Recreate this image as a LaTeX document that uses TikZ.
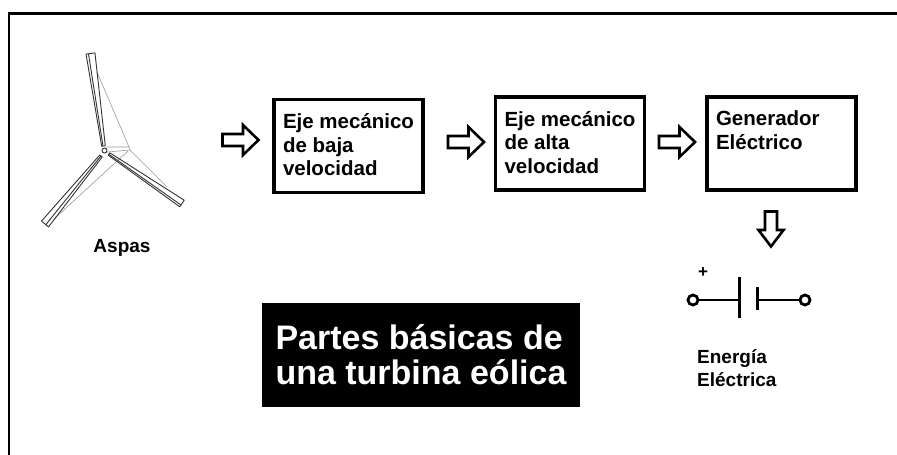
\documentclass[tikz,border=0pt]{standalone}
\usepackage{fontspec}
\setmainfont{Liberation Sans}

\begin{document}
\begin{tikzpicture}[x=1pt, y=-1pt]
  \tikzstyle{every node}=[font=\bfseries]
  \tikzstyle{caja}=[draw, line width=3.5pt, minimum width=149pt, minimum height=93pt, inner xsep=9pt, inner ysep=14pt, font=\bfseries\fontsize{20.5}{23.5}\selectfont]
  \tikzstyle{flecha}=[draw, line width=2.6pt, line join=miter]
  \tikzstyle{aspa}=[draw=black!80, line width=0.9pt, line join=round]
  \tikzstyle{sombra}=[draw=black!40, line width=0.6pt]
  \tikzstyle{borne}=[circle, draw, line width=2.8pt, minimum size=10pt, inner sep=0pt]
  \useasboundingbox (0, 0) rectangle (897, 455);
  \draw[line width=3pt] (8, 13) -- (897, 13);
  \draw[line width=2pt] (9, 12) -- (9, 455);

  \draw[sombra] (106, 147) -- (129, 147) -- (130, 150) -- (107, 152);
  \draw[sombra] (97, 72) -- (129, 147);
  \draw[sombra] (130, 150) -- (167, 187);
  \draw[sombra] (128, 151) -- (54, 219);
  \draw[aspa] (94.96, 52.88) -- (86.04, 54.12) -- (101.7, 146.25) -- (105.3, 145.75) -- cycle;
  \draw[aspa] (88.5, 54) -- (103, 146);
  \draw[aspa] (48.5, 226.9) -- (41.5, 221.1) -- (99.8, 155) -- (102.2, 157) -- cycle;
  \draw[aspa] (46, 224.5) -- (101, 156);
  \draw[aspa] (179.8, 206.8) -- (184.2, 200.2) -- (109.8, 152.8) -- (108.2, 155.2) -- cycle;
  \draw[aspa] (181, 205) -- (108.5, 154);
  \draw[aspa, fill=white] (104.5, 150.5) circle (2.5);
    \node[font=\bfseries\fontsize{19}{23}\selectfont, anchor=base] (aspas) at (122, 252) {Aspas};

  \draw[flecha, shift={(241.5, 140)}] (-19, -6) -- (1.5, -6) -- (1.5, -15) -- (17, 0) -- (1.5, 15) -- (1.5, 6) -- (-19, 6) -- cycle;
  \node[caja] (ejebaja) at (348.5, 146)
    {\parbox[c][65pt][t]{131pt}{Eje mecánico\\de baja\\velocidad}};
  \draw[flecha, shift={(467, 142)}] (-19, -6) -- (1.5, -6) -- (1.5, -15) -- (17, 0) -- (1.5, 15) -- (1.5, 6) -- (-19, 6) -- cycle;
  \node[caja] (ejealta) at (570, 143.5)
    {\parbox[c][65pt][t]{131pt}{Eje mecánico\\de alta\\velocidad}};
  \draw[flecha, shift={(678, 142)}] (-19, -6) -- (1.5, -6) -- (1.5, -15) -- (17, 0) -- (1.5, 15) -- (1.5, 6) -- (-19, 6) -- cycle;
  \node[caja] (generador) at (781.5, 143.5)
    {\parbox[c][65pt][t]{131pt}{Generador\\Eléctrico}};
  \draw[flecha, shift={(771, 230)}, rotate=-90] (-18.5, -6) -- (0, -6) -- (0, -12.5) -- (16.5, 0) -- (0, 12.5) -- (0, 6) -- (-18.5, 6) -- cycle;

  \node[borne] (bornea) at (693, 300) {};
  \node[borne] (borneb) at (805, 300) {};
  \coordinate (placaa) at (739, 300);
  \coordinate (placab) at (757, 300);
  \draw[line width=2.8pt] (bornea) -- (placaa);
  \draw[line width=2.8pt] (placab) -- (borneb);
  \draw[line width=3pt] (739, 277) -- (739, 318);
  \draw[line width=3pt] (757, 287) -- (757, 310);
    \node[font=\bfseries\fontsize{17}{17}\selectfont, inner sep=0pt] (mas) at (703, 273) {+};
    \node[anchor=north west, align=left, inner sep=0pt, font=\bfseries\fontsize{19}{23}\selectfont] (energia) at (697, 349) {Energía\\Eléctrica};

  \node[fill=black, text=white, minimum width=318pt, minimum height=104pt, align=left, font=\bfseries\fontsize{34}{35}\selectfont] (titulo) at (421, 355) {Partes básicas de\\una turbina eólica};
\end{tikzpicture}
\end{document}
